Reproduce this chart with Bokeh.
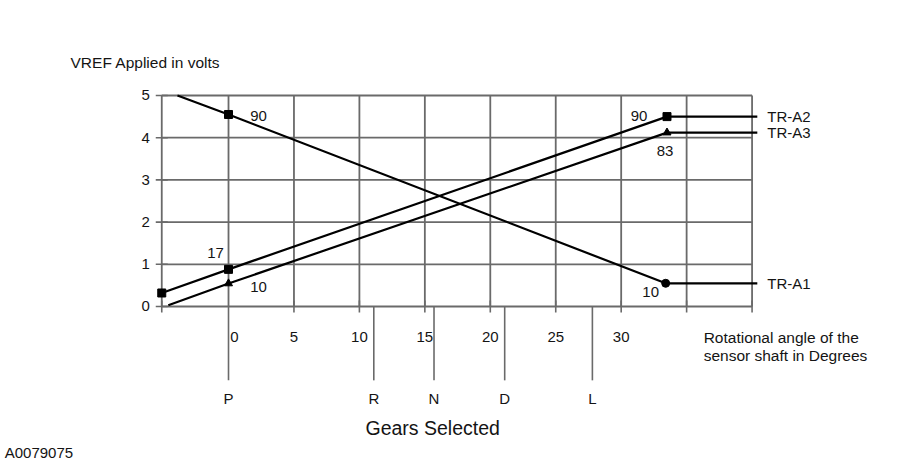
from bokeh.plotting import figure
from bokeh.models import Range1d, ColumnDataSource
from bokeh.embed import file_html
from bokeh.resources import INLINE
from bokeh.core.properties import value

# ---------------- data ----------------
x_grid = [0, 5, 10, 15, 20, 25, 30, 35, 40]
x_tick_vals = [0, 5, 10, 15, 20, 25, 30]
x_tick_labels = ["0", "5", "10", "15", "20", "25", "30"]
y_ticks = [0, 1, 2, 3, 4, 5]
y_tick_labels = ["0", "1", "2", "3", "4", "5"]
x_min, x_max = -5.1, 40
y_min, y_max = 0, 5

gears = ["P", "R", "N", "D", "L"]
gear_angles = [0, 11.1, 15.7, 21.1, 27.8]
gear_line_end = -1.75

tra1_x = [-3.9, 0, 33.4, 40.4]
tra1_y = [5.0, 4.55, 0.55, 0.55]
tra2_x = [-5.1, 0, 33.5, 40.4]
tra2_y = [0.32, 0.88, 4.5, 4.5]
tra3_x = [-4.6, 0, 33.5, 40.4]
tra3_y = [0.03, 0.545, 4.12, 4.12]
series_names = ["TR-A1", "TR-A2", "TR-A3"]

ann_x = [0, 0, 0, 33.5, 33.5, 33.4]
ann_y = [4.55, 0.88, 0.545, 4.5, 4.12, 0.55]
ann_text = ["90", "17", "10", "90", "83", "10"]

# ---------------- figure ----------------
FONT = value("Liberation Sans")
TXT = "#141414"
GRID = "#6a6a6a"

p = figure(width=900, height=474, output_backend="svg", toolbar_location=None,
           x_range=Range1d(-17.42, 51.34), y_range=Range1d(-3.981, 7.251),
           x_axis_type=None, y_axis_type=None, min_border=0)
p.outline_line_color = None
p.background_fill_color = "white"
p.border_fill_color = "white"

# grid
p.segment(x0=x_grid, y0=[y_min] * len(x_grid), x1=x_grid, y1=[y_max] * len(x_grid),
          line_color=GRID, line_width=1.8)
p.segment(x0=[x_min] * len(y_ticks), y0=y_ticks, x1=[x_max] * len(y_ticks), y1=y_ticks,
          line_color=GRID, line_width=1.8)
# left axis line
p.segment(x0=[x_min], y0=[y_min], x1=[x_min], y1=[y_max], line_color=GRID, line_width=1.8)
# ticks
p.scatter(x=[x_min] * len(y_ticks), y=y_ticks, marker="dash", size=12,
          line_color=GRID, line_width=1.6)
p.scatter(x=[x_min] + x_grid[1:], y=[y_min] * len(x_grid), marker="dash", angle=1.5708,
          size=12, line_color=GRID, line_width=1.6)

# gear lines
p.segment(x0=gear_angles, y0=[y_min] * len(gears), x1=gear_angles,
          y1=[gear_line_end] * len(gears), line_color=GRID, line_width=1.6)
p.text(x=gear_angles, y=[gear_line_end] * len(gears), text=gears, y_offset=18,
       text_align="center", text_baseline="middle", text_font=FONT,
       text_font_size="15px", text_color=TXT)

# tick labels
xt_src = ColumnDataSource(dict(x=x_tick_vals, y=[y_min] * len(x_tick_vals),
                               t=x_tick_labels, dx=[6, 0, 0, 0, 0, 0, 0]))
p.text(x="x", y="y", text="t", x_offset="dx", y_offset=31, source=xt_src,
       text_align="center", text_baseline="middle", text_font=FONT,
       text_font_size="15px", text_color=TXT)
p.text(x=[x_min] * len(y_ticks), y=y_ticks, text=y_tick_labels, x_offset=-12,
       text_align="right", text_baseline="middle", text_font=FONT,
       text_font_size="15px", text_color=TXT)

# series
for xs, ys in ((tra1_x, tra1_y), (tra2_x, tra2_y), (tra3_x, tra3_y)):
    p.line(xs, ys, line_color="black", line_width=2.2)

p.scatter(x=[tra1_x[1]], y=[tra1_y[1]], marker="square", size=8, color="black")
p.scatter(x=[tra1_x[2]], y=[tra1_y[2]], marker="circle", size=8, color="black")
p.scatter(x=tra2_x[:3], y=tra2_y[:3], marker="square", size=8, color="black")
p.scatter(x=tra3_x[1:3], y=tra3_y[1:3], marker="triangle", size=8, color="black")

# series names
p.text(x=[tra1_x[-1], tra2_x[-1], tra3_x[-1]], y=[tra1_y[-1], tra2_y[-1], tra3_y[-1]],
       text=series_names, x_offset=10, text_align="left", text_baseline="middle",
       text_font=FONT, text_font_size="15px", text_color=TXT)

# point annotations
ann_src = ColumnDataSource(dict(x=ann_x, y=ann_y, t=ann_text,
                                dx=[30, -13, 30, -28, -2, -15],
                                dy=[2, -16, 4, -1, 18, 9]))
p.text(x="x", y="y", text="t", x_offset="dx", y_offset="dy", source=ann_src,
       text_align="center", text_baseline="middle", text_font=FONT,
       text_font_size="15px", text_color=TXT)

# titles
p.text(x=[-12.07], y=[5.78], text=["VREF Applied in volts"], text_align="left",
       text_baseline="middle", text_font=FONT, text_font_size="15.5px", text_color=TXT)
p.text(x=[36.3, 36.3], y=[-0.735, -1.16],
       text=["Rotational angle of the", "sensor shaft in Degrees"], text_align="left",
       text_baseline="middle", text_font=FONT, text_font_size="15.5px", text_color=TXT)
p.text(x=[15.6], y=[-2.87], text=["Gears Selected"], text_align="center",
       text_baseline="middle", text_font=FONT, text_font_size="19.5px", text_color=TXT)
p.text(x=[-17.1], y=[-3.46], text=["A0079075"], text_align="left",
       text_baseline="middle", text_font=FONT, text_font_size="15px", text_color=TXT)

open("out.html", "w").write(file_html(p, INLINE))
